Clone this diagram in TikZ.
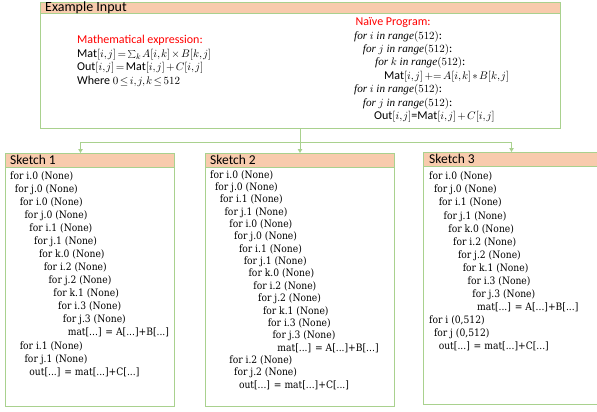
\documentclass[tikz,border=0pt]{standalone}
\usepackage{fontspec}
\setmainfont{Liberation Serif}
\newfontfamily\carl{Carlito}
\newfontfamily\skf[FakeStretch=0.9]{DejaVu Serif}
\usetikzlibrary{arrows.meta,calc}
\definecolor{bord}{HTML}{A9D18E}
\definecolor{peach}{HTML}{F8CBAD}
\definecolor{redt}{HTML}{FF0000}
\DeclareMathSizes{12}{11.2}{8}{6}
\newdimen\lvlstep \lvlstep=4.8pt
\newcommand\lvl[1]{\hspace*{#1\lvlstep}\ignorespaces}
\newcommand\fr[1]{$\mathit{for}\ #1\ \mathit{in}\ \mathit{range}(512)$:}
\newcommand\tightmath{\thinmuskip=1.5mu\medmuskip=2mu\thickmuskip=2.5mu}
\newcommand\smallsum{\mathop{\vcenter{\hbox{\scalebox{0.8}{$\sum$}}}}\nolimits}
\tikzset{
 box/.style={draw=bord, line width=1pt, anchor=north west, inner sep=0pt},
 hdrbar/.style={fill=peach, draw=bord, line width=1pt, anchor=north west, inner sep=0pt},
 hdrtext/.style={anchor=west, inner sep=0pt, font=\carl\fontsize{13.5}{14}\selectfont},
 toptext/.style={anchor=north west, inner sep=0pt, align=left, font=\carl\fontsize{12}{13.4}\selectfont\tightmath},
 sk/.style={anchor=north west, inner sep=0pt, align=left, font=\skf\fontsize{10.2}{13.07}\selectfont},
 conn/.style={draw=bord, line width=1pt},
 arr/.style={conn, -{Triangle[length=4pt,width=4.5pt]}},
}
\begin{document}
\begin{tikzpicture}[x=1pt,y=-1pt]
\useasboundingbox (0,0) rectangle (597,412);
% top box
\node[hdrbar, minimum width=520pt, minimum height=11.5pt] (inhdr) at (40,2) {};
\node[box, minimum width=520pt, minimum height=126pt] (input) at (40,2) {};
\node[hdrtext, font=\carl\fontsize{14}{14}\selectfont] (inlabel) at (45,8) {Example Input};
\node[toptext] (math) at (77,34.5) {{\color{redt}Mathematical expression:}\\[1pt]
$\mbox{Mat}[i,j]=\smallsum_k A[i,k]\times B[k,j]$\\
$\mbox{Out}[i,j]=\mbox{Mat}[i,j]+C[i,j]$\\
Where $0\le i,j,k\le 512$};
\node[toptext] (prog) at (354,17.5) {\hspace*{1.5pt}{\color{redt}Naïve Program:}\\
\fr{i}\\
\hspace*{8.7pt}\fr{j}\\
\hspace*{21pt}\fr{k}\\
\hspace*{30pt}$\mbox{Mat}[i,j]\mathrel{{+}{=}}A[i,k]*B[k,j]$\\
\fr{i}\\
\hspace*{8.7pt}\fr{j}\\
\hspace*{20pt}$\mbox{Out}[i,j]$=$\mbox{Mat}[i,j]+C[i,j]$};
% sketch boxes
\node[hdrbar, minimum width=169pt, minimum height=14pt] (h1) at (5,153) {};
\node[box, minimum width=169pt, minimum height=253pt] (s1) at (5,153) {};
\node[hdrtext] (l1) at (10,160) {Sketch 1};
\node[hdrbar, minimum width=189pt, minimum height=14pt] (h2) at (205,153) {};
\node[box, minimum width=189pt, minimum height=253pt] (s2) at (205,153) {};
\node[hdrtext] (l2) at (210,160) {Sketch 2};
\node[hdrbar, minimum width=176pt, minimum height=14pt] (h3) at (423,152) {};
\node[box, minimum width=176pt, minimum height=252pt] (s3) at (423,152) {};
\node[hdrtext] (l3) at (429,159) {Sketch 3};
% sketch bodies
\node[sk] (b1) at (10,171.2) {for i.0 (None)\\
\lvl{1} for j.0 (None)\\
\lvl{2} for i.0 (None)\\
\lvl{3} for j.0 (None)\\
\lvl{4} for i.1 (None)\\
\lvl{5} for j.1 (None)\\
\lvl{6} for k.0 (None)\\
\lvl{7} for i.2 (None)\\
\lvl{8} for j.2 (None)\\
\lvl{9} for k.1 (None)\\
\lvl{10} for i.3 (None)\\
\lvl{11} for j.3 (None)\\
\lvl{12} mat[...] = A[...]+B[...]\\
\lvl{2} for i.1 (None)\\
\lvl{3} for j.1 (None)\\
\lvl{4} out[...] = mat[...]+C[...]};
\node[sk, font=\skf\fontsize{10.2}{12.35}\selectfont] (b2) at (210,170.2) {for i.0 (None)\\
\lvl{1} for j.0 (None)\\
\lvl{2} for i.1 (None)\\
\lvl{3} for j.1 (None)\\
\lvl{4} for i.0 (None)\\
\lvl{5} for j.0 (None)\\
\lvl{6} for i.1 (None)\\
\lvl{7} for j.1 (None)\\
\lvl{8} for k.0 (None)\\
\lvl{9} for i.2 (None)\\
\lvl{10} for j.2 (None)\\
\lvl{11} for k.1 (None)\\
\lvl{12} for i.3 (None)\\
\lvl{13} for j.3 (None)\\
\lvl{14} mat[...] = A[...]+B[...]\\
\lvl{4} for i.2 (None)\\
\lvl{5} for j.2 (None)\\
\lvl{6} out[...] = mat[...]+C[...]};
\node[sk] (b3) at (429,171.9) {for i.0 (None)\\
\lvl{1} for j.0 (None)\\
\lvl{2} for i.1 (None)\\
\lvl{3} for j.1 (None)\\
\lvl{4} for k.0 (None)\\
\lvl{5} for i.2 (None)\\
\lvl{6} for j.2 (None)\\
\lvl{7} for k.1 (None)\\
\lvl{8} for i.3 (None)\\
\lvl{9} for j.3 (None)\\
\lvl{10} mat[...] = A[...]+B[...]\\
for i (0,512)\\
\lvl{1} for j (0,512)\\
\lvl{2} out[...] = mat[...]+C[...]};
% connectors
\coordinate (split) at ($(input.south)+(0,13)$);
\coordinate (t1) at ([xshift=-9.5pt]s1.north);
\draw[conn] (input.south) -- (split);
\draw[arr] (split) -| (t1);
\draw[arr] (split) -| (s3.north);
\draw[arr] (split -| s2.north) -- (s2.north);
\end{tikzpicture}
\end{document}
